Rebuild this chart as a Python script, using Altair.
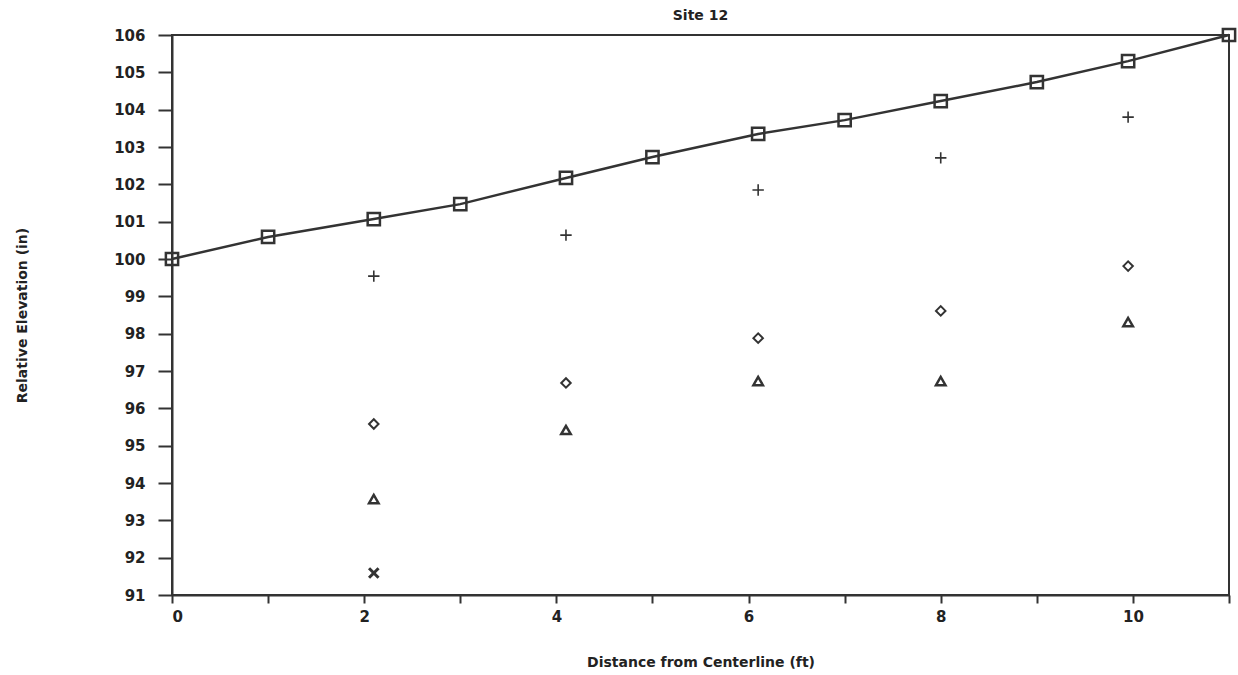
import altair as alt
import pandas as pd

# Surface profile (connected squares)
line_x = [0, 1, 2.1, 3, 4.1, 5, 6.1, 7, 8, 9, 9.95, 11]
line_y = [100.0, 100.59, 101.07, 101.47, 102.17, 102.73, 103.35, 103.72, 104.23, 104.74, 105.30, 106.0]

pt_x = [2.1, 4.1, 6.1, 8.0, 9.95]
plus_y = [99.54, 100.64, 101.85, 102.71, 103.80]
diamond_y = [95.58, 96.68, 97.88, 98.61, 99.81]
triangle_y = [93.57, 95.42, 96.73, 96.73, 98.31]

x_cross_x = [2.1]
x_cross_y = [91.59]

y_ticks = list(range(91, 107))
x_ticks = list(range(0, 12))

FONT = "DejaVu Sans"
INK = "#333333"
TXT = "#222222"

line_df = pd.DataFrame({"x": line_x, "y": line_y})
plus_df = pd.DataFrame({"x": pt_x, "y": plus_y})
diam_df = pd.DataFrame({"x": pt_x, "y": diamond_y})
tri_df = pd.DataFrame({"x": pt_x, "y": triangle_y})
xc_df = pd.DataFrame({"x": x_cross_x, "y": x_cross_y})

xscale = alt.Scale(domain=[0, 11], nice=False, zero=False)
yscale = alt.Scale(domain=[91, 106], nice=False, zero=False)

common = dict(grid=False, domainColor=INK, domainWidth=2, tickColor=INK, tickWidth=2,
              labelFont=FONT, labelFontSize=15, labelFontWeight="bold", labelColor=TXT,
              titleFont=FONT, titleFontSize=14, titleFontWeight="bold", titleColor=TXT,
              labelOverlap=False)

xaxis = alt.Axis(values=x_ticks, format="d",
                 labelExpr="(datum.value % 2 == 0 && datum.value <= 10) ? datum.label : ''",
                 tickSize=8, labelPadding=6, title="Distance from Centerline (ft)",
                 titlePadding=31, **common)
yaxis = alt.Axis(values=y_ticks, format="d", tickSize=14, labelPadding=13,
                 title="Relative Elevation (in)", titlePadding=84, **common)

X = alt.X("x:Q", scale=xscale, axis=xaxis)
Y = alt.Y("y:Q", scale=yscale, axis=yaxis)

line = alt.Chart(line_df).mark_line(color=INK, strokeWidth=2.5, clip=False).encode(x=X, y=Y)
squares = alt.Chart(line_df).mark_point(shape="square", size=150, filled=False, color=INK,
                                        strokeWidth=2.5, opacity=1, clip=False).encode(x=X, y=Y)
plus = alt.Chart(plus_df).mark_point(shape="M-1,0L1,0M0,-1L0,1", size=130, filled=False,
                                     color=INK, strokeWidth=1.6, opacity=1).encode(x=X, y=Y)
diam = alt.Chart(diam_df).mark_point(shape="diamond", size=90, filled=False, color=INK,
                                     strokeWidth=2, opacity=1).encode(x=X, y=Y)
tri = alt.Chart(tri_df).mark_point(shape="triangle-up", size=90, filled=False, color=INK,
                                   strokeWidth=2.5, opacity=1).encode(x=X, y=Y)
xc = alt.Chart(xc_df).mark_point(shape="M-1,-1L1,1M-1,1L1,-1", size=90, filled=False, color=INK,
                                 strokeWidth=3, opacity=1).encode(x=X, y=Y)

chart = alt.layer(line, squares, plus, diam, tri, xc).properties(
    width=1057, height=560,
    background="white",
    title=alt.TitleParams("Site 12", fontSize=14, font=FONT, fontWeight="bold", color=TXT, offset=1),
    autosize=alt.AutoSizeParams(type="none"),
    padding={"left": 172, "top": 35, "right": 9, "bottom": 80},
).configure_view(stroke=INK, strokeWidth=2)

chart.save("out.html", embed_options={"renderer": "svg", "actions": False})
